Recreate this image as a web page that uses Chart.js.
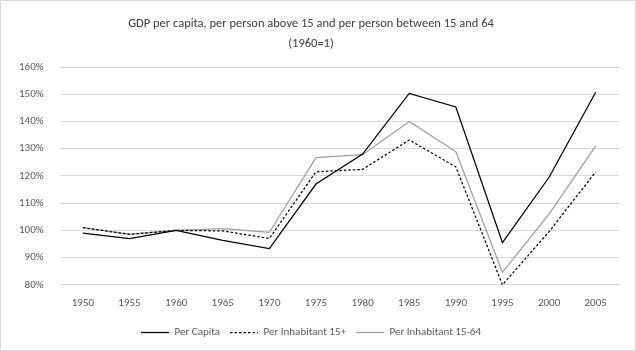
<!DOCTYPE html>
<html>
<head>
<meta charset="utf-8">
<script src="https://cdn.jsdelivr.net/npm/chart.js@4"></script>
<style>
  html, body { margin: 0; padding: 0; background: #fff; }
  #wrap { width: 634px; height: 349px; border: 1px solid #d9d9d9; position: relative; }
</style>
</head>
<body>
<div id="wrap"><canvas id="myChart"></canvas></div>
<script>
const years = ['1950', '1955', '1960', '1965', '1970', '1975', '1980', '1985', '1990', '1995', '2000', '2005'];
const perCapita = [99, 97, 100, 96.3, 93.3, 117, 128, 150.3, 145.3, 95.5, 119.5, 150.7];
const perInhabitant15 = [101, 98.5, 100, 99.8, 97, 121.5, 122.4, 133.2, 123.3, 80, 99.5, 121.5];
const perInhabitant1564 = [101, 98.6, 100, 100.6, 99.3, 126.7, 127.8, 140, 128.9, 84.6, 106, 131];
const yTicks = [80, 90, 100, 110, 120, 130, 140, 150, 160];

const font = 'Carlito, Lato';

const ctx = document.getElementById('myChart');
new Chart(ctx, {
  type: 'line',
  data: {
    labels: years,
    datasets: [
      {
        label: 'Per Capita',
        data: perCapita,
        borderColor: '#000000',
        backgroundColor: '#000000',
        borderWidth: 1.25,
        pointRadius: 0,
        tension: 0
      },
      {
        label: 'Per Inhabitant 15+',
        data: perInhabitant15,
        borderColor: '#000000',
        backgroundColor: '#000000',
        borderWidth: 1.25,
        borderDash: [2.5, 2],
        pointRadius: 0,
        tension: 0
      },
      {
        label: 'Per Inhabitant 15-64',
        data: perInhabitant1564,
        borderColor: '#a0a0a0',
        backgroundColor: '#a0a0a0',
        borderWidth: 1.25,
        pointRadius: 0,
        tension: 0
      }
    ]
  },
  options: {
    responsive: true,
    maintainAspectRatio: false,
    animation: false,
    layout: { padding: { left: 2, right: 16, top: 7, bottom: 2 } },
    plugins: {
      title: {
        display: true,
        text: ['GDP per capita, per person above 15 and per person between 15 and 64', '(1960=1)'],
        color: '#404040',
        font: { family: font, size: 12.5, weight: 'normal', lineHeight: 1.6 },
        padding: { top: 6, bottom: 13 }
      },
      legend: {
        position: 'bottom',
        labels: {
          usePointStyle: true,
          pointStyle: 'line',
          pointStyleWidth: 28,
          boxHeight: 11,
          color: '#595959',
          font: { family: font, size: 11 },
          padding: 10,
          // legend should show each dataset's own dash, not the point style
          generateLabels: (chart) => {
            const items = Chart.defaults.plugins.legend.labels.generateLabels(chart);
            items.forEach((item) => {
              const ds = chart.data.datasets[item.datasetIndex];
              item.lineDash = ds.borderDash || [];
              item.lineWidth = ds.borderWidth;
              item.strokeStyle = ds.borderColor;
            });
            return items;
          }
        }
      },
      tooltip: { enabled: false }
    },
    scales: {
      x: {
        offset: true,
        grid: { display: false, drawTicks: false },
        border: { color: '#d9d9d9' },
        ticks: { color: '#595959', font: { family: font, size: 11 }, padding: 12, maxRotation: 0 },
        afterFit: (axis) => { axis.height -= 5; }
      },
      y: {
        min: yTicks[0],
        max: yTicks[yTicks.length - 1],
        afterBuildTicks: (axis) => { axis.ticks = yTicks.map(v => ({ value: v })); },
        grid: { color: '#d9d9d9', drawTicks: false },
        border: { display: false },
        ticks: {
          color: '#595959',
          font: { family: font, size: 11 },
          padding: 16,
          callback: (v) => v + '%'
        }
      }
    }
  }
});
</script>
</body>
</html>
